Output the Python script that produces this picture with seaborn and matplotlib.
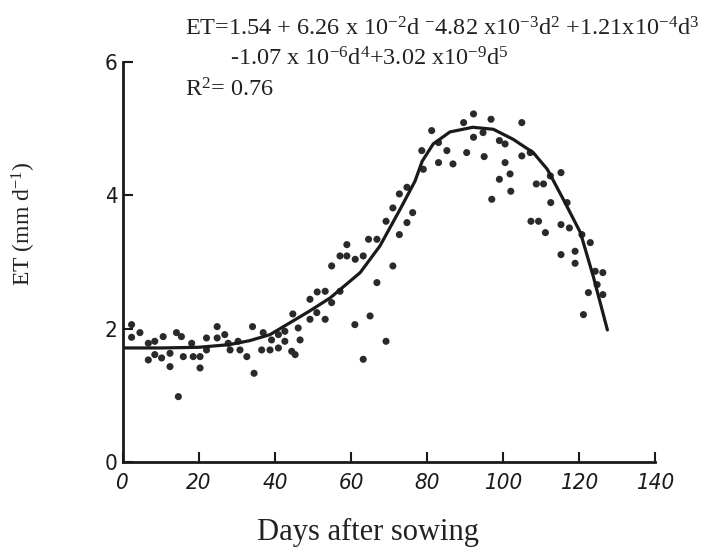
import numpy as np
import pandas as pd
import seaborn as sns
import matplotlib
matplotlib.use("Agg")
import matplotlib.pyplot as plt

days = [2.3, 2.3, 4.5, 6.7, 6.7, 8.4, 8.4, 10.2, 10.6, 12.4, 12.4, 14.1, 14.6, 15.4,
        15.9, 18.1, 18.5, 20.3, 20.3, 22.0, 22.0, 24.8, 24.8, 26.8, 27.7, 28.2, 30.3,
        30.8, 32.6, 34.1, 34.5, 36.5, 36.9, 38.7, 39.1, 40.9, 40.9, 42.6, 42.6, 44.4,
        44.7, 45.3, 46.1, 46.6, 49.2, 49.2, 51.0, 51.1, 53.2, 53.2, 54.9, 57.1, 61.0,
        63.2,
        54.9, 57.1, 58.9, 58.9, 61.1, 63.2, 64.6,
        65.0, 66.8, 66.8, 69.2, 69.2, 71.0, 71.0, 72.7, 72.7, 74.7, 74.7, 76.2, 78.6,
        79.0, 81.2, 83.0, 83.0, 85.2, 86.8, 89.6, 90.4, 92.2, 92.2, 94.7, 95.0, 96.8,
        97.0, 99.0, 99.0, 100.5, 100.5, 101.8, 102.0, 104.9, 104.9, 107.1, 107.3,
        108.7, 109.3, 110.6, 111.1, 112.4, 112.5, 115.2, 115.2, 115.2, 116.8, 117.4,
        118.9, 118.9, 120.7, 121.1, 122.9, 122.4, 124.2, 124.7, 126.2, 126.2]
et = [2.06, 1.87, 1.94, 1.78, 1.53, 1.81, 1.61, 1.56, 1.88, 1.63, 1.43, 1.94, 0.98, 1.88,
      1.58, 1.78, 1.58, 1.58, 1.41, 1.86, 1.68, 2.03, 1.86, 1.91, 1.78, 1.68, 1.81,
      1.68, 1.58, 2.03, 1.33, 1.68, 1.94, 1.68, 1.83, 1.71, 1.91, 1.81, 1.96, 1.66,
      2.22, 1.61, 2.01, 1.83, 2.44, 2.14, 2.24, 2.55, 2.56, 2.14, 2.39, 2.56, 2.06,
      1.54,
      2.94, 3.09, 3.09, 3.26, 3.04, 3.09, 3.34,
      2.19, 3.34, 2.69, 3.61, 1.81, 3.81, 2.94, 4.02, 3.41, 4.12, 3.59, 3.74, 4.67,
      4.39, 4.97, 4.79, 4.49, 4.67, 4.47, 5.09, 4.64, 5.22, 4.87, 4.94, 4.58, 5.14,
      3.94, 4.82, 4.24, 4.77, 4.49, 4.32, 4.06, 5.09, 4.59, 4.64, 3.61,
      4.17, 3.61, 4.17, 3.44, 4.29, 3.89, 4.34, 3.56, 3.11, 3.89, 3.51,
      3.16, 2.98, 3.41, 2.21, 3.29, 2.54, 2.86, 2.66, 2.84, 2.51]

# fitted curve as drawn in the figure
fit_days = [0, 10, 20, 28, 33.4, 38.7, 44, 49, 54.5, 59.7, 62.4, 67.6, 72.9, 76.8,
            78.7, 81.6, 86, 92, 97.4, 102.6, 107.9, 111.6, 115.8, 120.3, 123.7, 127.4]
fit_et = [1.71, 1.71, 1.72, 1.76, 1.82, 1.91, 2.09, 2.26, 2.46, 2.71, 2.84, 3.24, 3.79,
          4.21, 4.51, 4.77, 4.95, 5.02, 4.99, 4.84, 4.64, 4.39, 3.94, 3.44, 2.78, 1.98]

x_ticks = [0, 20, 40, 60, 80, 100, 120, 140]
y_ticks = [0, 2, 4, 6]

df_obs = pd.DataFrame({"days": days, "et": et})
df_fit = pd.DataFrame({"days": fit_days, "et": fit_et})

sns.set_style("ticks")
plt.rcParams['font.family'] = ['Liberation Serif', 'DejaVu Serif']
plt.rcParams['mathtext.fontset'] = 'custom'
plt.rcParams['mathtext.rm'] = 'Liberation Serif'
plt.rcParams['mathtext.it'] = 'Liberation Serif:italic'

fig = plt.figure(figsize=(7.1, 5.48), dpi=100)
ax = fig.add_axes([0.173, 0.157, 0.75, 0.73])

sns.scatterplot(data=df_obs, x="days", y="et", color="#2a2a2a", s=26,
                edgecolor="none", ax=ax, legend=False)
sns.lineplot(data=df_fit, x="days", y="et", color="#1a1a1a", linewidth=2.3,
             ax=ax, legend=False)

ax.set_xlim(0, 140)
ax.set_ylim(0, 6)
ax.set_xticks(x_ticks)
ax.set_yticks(y_ticks)
ax.set_xticklabels([str(t) for t in x_ticks], family='DejaVu Sans', style='italic',
                   fontstretch='condensed', fontsize=16)
ax.set_yticklabels([str(t) for t in y_ticks], family='DejaVu Sans',
                   fontstretch='condensed', fontsize=16)
ax.tick_params(direction='in', length=7, width=1.5, colors='#1a1a1a')
ax.tick_params(axis='x', pad=8)
ax.tick_params(axis='y', pad=4)
sns.despine(ax=ax)
for s in ("left", "bottom"):
    ax.spines[s].set_linewidth(2)
    ax.spines[s].set_color('#1a1a1a')

ax.set_xlabel("Days after sowing", fontsize=22, color='#222222')
ax.xaxis.set_label_coords(0.46, -0.14)
ax.set_ylabel("ET (mm d$^{-1}$)", fontsize=17, color='#222222')
ax.yaxis.set_label_coords(-0.16, 0.595)

eq1 = "ET=1.54 + 6.26 x 10$^{-2}$d $^{-}$4.82 x10$^{-3}$d$^{2}$ +1.21x10$^{-4}$d$^{3}$"
eq2 = "-1.07 x 10$^{-6}$d$^{4}$+3.02 x10$^{-9}$d$^{5}$"
eq3 = "R$^{2}$= 0.76"
fig.text(0.261, 0.936, eq1, fontsize=17.5, va='baseline', ha='left', color='#222222')
fig.text(0.324, 0.881, eq2, fontsize=17.5, va='baseline', ha='left', color='#222222')
fig.text(0.261, 0.823, eq3, fontsize=17.5, va='baseline', ha='left', color='#222222')

fig.savefig("out.png", dpi=100)
